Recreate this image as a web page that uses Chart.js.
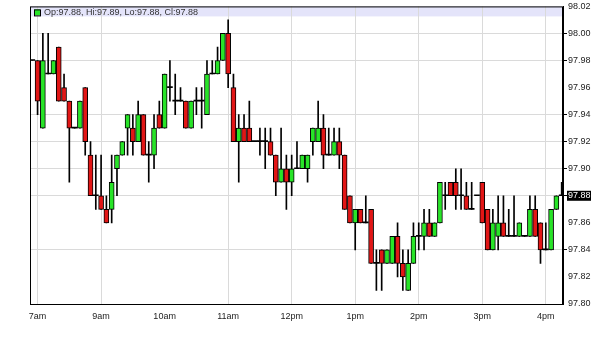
<!DOCTYPE html>
<html>
<head>
<meta charset="utf-8">
<script src="https://cdn.jsdelivr.net/npm/chart.js@4/dist/chart.umd.min.js"></script>
<style>
  html, body { margin: 0; padding: 0; background: #fff; }
  #wrap { width: 600px; height: 339px; }
</style>
</head>
<body>
<div id="wrap"><canvas id="priceChart"></canvas></div>
<script>
// 5 minute candles, index 0 = first bar on the left
var opens = [97.98, 97.98, 97.93, 97.97, 97.97, 97.99, 97.96, 97.95, 97.93, 97.93,
             97.96, 97.91, 97.88, 97.88, 97.87, 97.87, 97.90, 97.91, 97.93, 97.93,
             97.92, 97.94, 97.91, 97.91, 97.94, 97.93, 97.96, 97.95, 97.95, 97.95,
             97.93, 97.95, 97.95, 97.94, 97.97, 97.97, 97.98, 98.00, 97.96, 97.92,
             97.93, 97.93, 97.92, 97.92, 97.92, 97.92, 97.91, 97.89, 97.90, 97.89,
             97.90, 97.90, 97.90, 97.92, 97.92, 97.93, 97.91, 97.91, 97.92, 97.91,
             97.88, 97.86, 97.87, 97.86, 97.87, 97.83, 97.84, 97.83, 97.83, 97.85,
             97.83, 97.81, 97.83, 97.85, 97.85, 97.86, 97.85, 97.86, 97.88, 97.89,
             97.89, 97.88, 97.88, 97.87, 97.88, 97.89, 97.87, 97.84, 97.85, 97.86,
             97.85, 97.85, 97.85, 97.85, 97.85, 97.87, 97.86, 97.84, 97.84, 97.87,
             97.88];
var highs = [97.98, 97.98, 98.00, 98.00, 97.98, 97.99, 97.97, 97.95, 97.93, 97.95,
             97.96, 97.92, 97.91, 97.91, 97.88, 97.91, 97.91, 97.92, 97.94, 97.94,
             97.95, 97.94, 97.92, 97.94, 97.95, 97.97, 97.98, 97.97, 97.96, 97.95,
             97.95, 97.96, 97.96, 97.98, 97.98, 97.99, 98.00, 98.01, 97.97, 97.94,
             97.94, 97.95, 97.92, 97.93, 97.93, 97.93, 97.91, 97.93, 97.91, 97.91,
             97.92, 97.91, 97.91, 97.93, 97.95, 97.94, 97.93, 97.93, 97.93, 97.91,
             97.88, 97.87, 97.87, 97.88, 97.87, 97.84, 97.84, 97.84, 97.85, 97.86,
             97.84, 97.84, 97.86, 97.86, 97.87, 97.87, 97.86, 97.89, 97.89, 97.89,
             97.90, 97.90, 97.89, 97.89, 97.88, 97.89, 97.87, 97.87, 97.88, 97.88,
             97.87, 97.88, 97.86, 97.85, 97.88, 97.88, 97.86, 97.86, 97.87, 97.88,
             97.89];
var lows  = [97.98, 97.94, 97.93, 97.97, 97.97, 97.95, 97.95, 97.89, 97.93, 97.93,
             97.91, 97.88, 97.87, 97.87, 97.86, 97.86, 97.88, 97.91, 97.91, 97.91,
             97.92, 97.91, 97.89, 97.90, 97.93, 97.93, 97.95, 97.94, 97.95, 97.93,
             97.93, 97.94, 97.93, 97.94, 97.97, 97.97, 97.98, 97.96, 97.92, 97.89,
             97.92, 97.92, 97.92, 97.91, 97.90, 97.91, 97.88, 97.89, 97.87, 97.88,
             97.90, 97.90, 97.89, 97.91, 97.92, 97.90, 97.91, 97.91, 97.90, 97.87,
             97.86, 97.84, 97.86, 97.86, 97.83, 97.81, 97.81, 97.83, 97.83, 97.82,
             97.81, 97.81, 97.83, 97.84, 97.84, 97.85, 97.85, 97.86, 97.87, 97.88,
             97.87, 97.87, 97.87, 97.87, 97.88, 97.86, 97.84, 97.84, 97.84, 97.85,
             97.85, 97.85, 97.85, 97.85, 97.85, 97.85, 97.83, 97.84, 97.84, 97.87,
             97.88];
var closes = [97.98, 97.95, 97.98, 97.97, 97.98, 97.95, 97.95, 97.93, 97.93, 97.95,
              97.92, 97.88, 97.88, 97.87, 97.86, 97.89, 97.91, 97.92, 97.94, 97.92,
              97.94, 97.91, 97.91, 97.93, 97.93, 97.97, 97.96, 97.95, 97.95, 97.93,
              97.95, 97.95, 97.95, 97.97, 97.97, 97.98, 98.00, 97.97, 97.92, 97.93,
              97.92, 97.92, 97.92, 97.92, 97.92, 97.91, 97.89, 97.90, 97.89, 97.90,
              97.90, 97.91, 97.91, 97.93, 97.93, 97.91, 97.91, 97.92, 97.91, 97.87,
              97.86, 97.87, 97.86, 97.86, 97.83, 97.83, 97.83, 97.84, 97.85, 97.83,
              97.82, 97.83, 97.85, 97.85, 97.86, 97.85, 97.86, 97.89, 97.88, 97.88,
              97.88, 97.88, 97.87, 97.87, 97.88, 97.86, 97.84, 97.86, 97.86, 97.85,
              97.85, 97.85, 97.86, 97.85, 97.87, 97.85, 97.84, 97.84, 97.87, 97.88,
              97.88];

// time axis labels and the bar they sit on
var hourLabels = ['7am', '9am', '10am', '11am', '12pm', '1pm', '2pm', '3pm', '4pm'];
var hourIndex  = [1, 13, 25, 37, 49, 61, 73, 85, 97];
var hoursWithoutGrid = ['10am'];

// price axis labels
var priceTicks = [97.80, 97.82, 97.84, 97.86, 97.88, 97.90, 97.92, 97.94, 97.96, 97.98, 98.00, 98.02];
var pricesWithGrid = [97.84, 97.88, 97.90, 97.92, 97.94, 97.98, 98.00];

var upColor = 'rgb(40, 228, 40)';
var downColor = 'rgb(226, 22, 22)';
var gridColor = 'rgb(218, 218, 218)';

var wickData = highs.map(function(h, i) { return { x: i, y: [lows[i], h] }; });
var bodyData = opens.map(function(o, i) { return { x: i, y: [o, closes[i]] }; });

function hasPriceGrid(v) {
    return pricesWithGrid.some(function(p) { return Math.abs(p - v) < 0.001; });
}

var last = closes.length - 1;

var framePlugin = {
    id: 'frame',
    beforeDraw: function(chart) {
        var a = chart.chartArea, ctx = chart.ctx;
        ctx.save();
        ctx.fillStyle = 'rgb(228, 228, 250)';
        ctx.fillRect(a.left, a.top, a.right - a.left, 10);
        ctx.restore();
    },
    afterDraw: function(chart) {
        var a = chart.chartArea, ctx = chart.ctx;
        var y = chart.scales.y;
        ctx.save();
        // frame
        ctx.strokeStyle = '#000';
        ctx.lineWidth = 1;
        ctx.strokeRect(a.left + 0.5, a.top + 0.5, a.right - a.left - 1, a.bottom - a.top);
        // header with last bar values
        ctx.fillStyle = upColor;
        ctx.fillRect(a.left + 4, a.top + 3, 6, 6);
        ctx.strokeStyle = '#000';
        ctx.strokeRect(a.left + 4.5, a.top + 3.5, 6, 6);
        ctx.fillStyle = '#333';
        ctx.font = '9px "Liberation Sans", Arial, sans-serif';
        ctx.textBaseline = 'middle';
        ctx.fillText('Op:' + opens[last].toFixed(2) + ', Hi:' + highs[last].toFixed(2) +
                     ', Lo:' + lows[last].toFixed(2) + ', Cl:' + closes[last].toFixed(2),
                     a.left + 14, a.top + 6);
        // last price marker
        var py = y.getPixelForValue(closes[last]);
        ctx.fillStyle = '#000';
        ctx.fillRect(a.right + 4, py - 5, 24, 10);
        ctx.fillStyle = '#fff';
        ctx.font = '9px "Liberation Sans", Arial, sans-serif';
        ctx.fillText(closes[last].toFixed(2), a.right + 5, py);
        ctx.restore();
    }
};

new Chart(document.getElementById('priceChart'), {
    type: 'bar',
    data: {
        datasets: [{
            label: 'Body',
            data: bodyData,
            grouped: false,
            order: 1,
            barThickness: 5,
            minBarLength: 1,
            borderSkipped: false,
            borderColor: '#000',
            borderWidth: function(context) {
                var i = context.dataIndex;
                return opens[i] === closes[i] ? 0 : 1;
            },
            backgroundColor: function(context) {
                var i = context.dataIndex;
                if (opens[i] === closes[i]) return '#000';
                return closes[i] > opens[i] ? upColor : downColor;
            }
        }, {
            label: 'Wick',
            data: wickData,
            grouped: false,
            order: 2,
            barThickness: 1,
            borderWidth: 0,
            backgroundColor: '#000'
        }]
    },
    options: {
        responsive: true,
        maintainAspectRatio: false,
        animation: false,
        layout: {
            padding: { left: 30, top: 5, right: 0, bottom: 0 }
        },
        plugins: {
            legend: { display: false },
            tooltip: { enabled: false }
        },
        scales: {
            x: {
                type: 'linear',
                min: -0.43,
                max: 100.25,
                offset: false,
                afterBuildTicks: function(scale) {
                    scale.ticks = hourIndex.map(function(v) { return { value: v }; });
                },
                afterFit: function(scale) {
                    scale.height = 35;
                },
                ticks: {
                    autoSkip: false,
                    maxRotation: 0,
                    padding: 4,
                    color: '#222',
                    font: { family: '"Liberation Sans", Arial, sans-serif', size: 9 },
                    callback: function(value) {
                        return hourLabels[hourIndex.indexOf(value)];
                    }
                },
                grid: {
                    offset: false,
                    tickLength: 3,
                    color: function(context) {
                        if (!context.tick) return gridColor;
                        var label = hourLabels[hourIndex.indexOf(context.tick.value)];
                        return hoursWithoutGrid.indexOf(label) >= 0 ? 'rgba(0,0,0,0)' : gridColor;
                    },
                    tickColor: 'rgba(0,0,0,0)'
                },
                border: { display: true, color: '#000', width: 1 }
            },
            y: {
                position: 'right',
                min: 97.80,
                max: 98.02,
                afterBuildTicks: function(scale) {
                    scale.ticks = priceTicks.map(function(v) { return { value: v }; });
                },
                afterFit: function(scale) {
                    scale.width = 37;
                },
                ticks: {
                    padding: 1,
                    color: '#222',
                    font: { family: '"Liberation Sans", Arial, sans-serif', size: 9 },
                    callback: function(value) {
                        return value.toFixed(2);
                    }
                },
                grid: {
                    tickLength: 4,
                    color: function(context) {
                        if (!context.tick) return gridColor;
                        return hasPriceGrid(context.tick.value) ? gridColor : 'rgba(0,0,0,0)';
                    },
                    tickColor: function(context) {
                        if (!context.tick) return '#000';
                        return hasPriceGrid(context.tick.value) ? '#000' : 'rgba(0,0,0,0)';
                    }
                },
                border: { display: true, color: '#000', width: 1 }
            }
        }
    },
    plugins: [framePlugin]
});
</script>
</body>
</html>
